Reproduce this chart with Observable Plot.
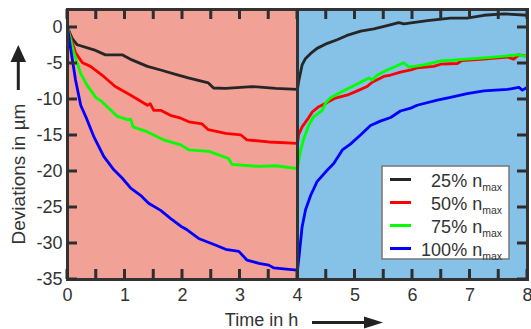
<!DOCTYPE html>
<html><head><meta charset="utf-8">
<script src="https://cdn.jsdelivr.net/npm/d3@7"></script>
<script src="https://cdn.jsdelivr.net/npm/@observablehq/plot@0.6"></script>
<style>body{margin:0;background:#fff} svg{display:block}</style>
</head><body><div id="chart"></div>
<script>
// ---- data ----
const seriesLabels = ["25%", "50%", "75%", "100%"];
const seriesColors = ["#262626", "#ff0000", "#00ff00", "#0000ff"];

const tBlack = [0, 0.08, 0.17, 0.46, 0.66, 0.95, 1.12, 1.39, 1.62, 1.88, 2.1, 2.45, 2.54, 2.75, 3.21, 3.62, 4.0, 4.02, 4.08, 4.14, 4.23, 4.34, 4.52, 4.69, 4.86, 5.1, 5.33, 5.56, 5.76, 5.85, 6.26, 6.66, 6.95, 7.24, 7.59, 8.0];
const vBlack = [0, -1.5, -2.4, -3.1, -3.8, -3.8, -4.5, -5.4, -5.9, -6.5, -7.0, -7.7, -8.4, -8.45, -8.2, -8.45, -8.6, -7.5, -5.2, -4.3, -3.6, -2.9, -2.2, -1.7, -1.1, -0.5, -0.2, 0.25, 0.67, 0.5, 0.95, 1.3, 1.3, 1.7, 1.9, 1.7];

const tRed = [0, 0.14, 0.26, 0.4, 0.6, 0.83, 1.1, 1.39, 1.44, 1.5, 1.62, 1.79, 1.97, 2.11, 2.34, 2.45, 2.75, 3.01, 3.12, 3.5, 4.0, 4.02, 4.08, 4.17, 4.26, 4.37, 4.52, 4.66, 4.86, 5.04, 5.21, 5.3, 5.5, 5.62, 5.79, 5.97, 6.08, 6.37, 6.49, 6.78, 6.86, 7.24, 7.65, 7.76, 7.85, 8.0];
const vRed = [0, -3.5, -4.9, -5.4, -6.6, -8.2, -9.4, -10.8, -10.6, -11.5, -11.5, -12.2, -12.6, -13.1, -13.4, -14.2, -14.7, -14.9, -15.6, -15.9, -16.1, -14.9, -13.8, -12.8, -11.7, -11.0, -10.4, -9.8, -9.4, -8.8, -8.2, -7.6, -6.8, -6.6, -6.2, -5.9, -5.6, -5.4, -5.1, -5.0, -4.6, -4.4, -4.1, -4.4, -3.8, -4.0];

const tGreen = [0, 0.11, 0.23, 0.34, 0.49, 0.6, 0.86, 1.04, 1.1, 1.14, 1.39, 1.67, 1.97, 2.11, 2.46, 2.8, 2.86, 3.33, 3.62, 4.0, 4.05, 4.11, 4.2, 4.28, 4.43, 4.49, 4.57, 4.75, 4.89, 5.1, 5.24, 5.3, 5.39, 5.56, 5.85, 5.94, 6.2, 6.49, 6.95, 7.36, 7.82, 8.0];
const vGreen = [0, -3.5, -6.4, -8.0, -9.7, -10.3, -12.3, -12.8, -12.75, -13.8, -14.5, -15.6, -16.3, -17.0, -17.2, -18.2, -19.0, -19.3, -19.2, -19.6, -17.2, -15.4, -13.5, -12.4, -11.5, -10.5, -9.8, -9.0, -8.45, -7.6, -7.0, -7.3, -6.6, -5.9, -4.9, -5.5, -5.2, -4.65, -4.4, -4.15, -3.8, -4.0];

const tBlue = [0, 0.05, 0.14, 0.23, 0.34, 0.46, 0.63, 0.81, 0.95, 1.1, 1.27, 1.41, 1.62, 1.79, 1.97, 2.08, 2.28, 2.57, 2.75, 2.98, 3.12, 3.33, 3.5, 3.59, 3.85, 4.0, 4.02, 4.08, 4.14, 4.23, 4.34, 4.52, 4.63, 4.78, 4.92, 5.1, 5.27, 5.44, 5.62, 5.79, 5.97, 6.08, 6.43, 6.66, 6.95, 7.24, 7.65, 7.85, 7.91, 8.0];
const vBlue = [0, -2.7, -7.3, -10.8, -12.8, -15.2, -17.9, -19.8, -20.9, -22.3, -23.3, -24.4, -25.4, -26.5, -27.6, -28.1, -29.3, -30.2, -30.8, -31.1, -32.3, -32.75, -33.0, -33.4, -33.6, -33.7, -32.3, -27.7, -25.3, -23.3, -21.4, -19.8, -18.9, -17.0, -16.2, -14.9, -13.6, -13.0, -12.5, -11.6, -11.2, -10.8, -10.1, -9.7, -9.2, -8.8, -8.6, -8.3, -8.7, -8.3];

const phaseStart = [0, 4];
const phaseEnd = [4, 8];
const phaseFill = ["#f2a196", "#86c1e8"];

const xTicks = [0, 0.5, 1, 1.5, 2, 2.5, 3, 3.5, 4, 4.5, 5, 5.5, 6, 6.5, 7, 7.5, 8];
const xLabels = [0, 1, 2, 3, 4, 5, 6, 7, 8];
const yTicks = [0, -5, -10, -15, -20, -25, -30, -35];

// ---- build ----
const tArr = [tBlack, tRed, tGreen, tBlue];
const vArr = [vBlack, vRed, vGreen, vBlue];
const series = tArr.map((ts, i) => ts.map((t, j) => ({t, v: vArr[i][j]})));
const phases = phaseStart.map((s, i) => ({s, e: phaseEnd[i], fill: phaseFill[i]}));

const FONT = "Liberation Sans, Arial, sans-serif";
const INK = "#333";
const W = 531, H = 329, ML = 67, MR = 4, MT = 9, MB = 50, TICK = 10;
const X_DOMAIN = [0, 8], Y_DOMAIN = [-35, 2.5];

const plot = Plot.plot({
  width: W,
  height: H,
  marginLeft: ML,
  marginRight: MR,
  marginTop: MT,
  marginBottom: MB,
  style: {fontFamily: FONT, background: "#fff", color: INK},
  x: {domain: X_DOMAIN},
  y: {domain: Y_DOMAIN},
  color: {type: "identity"},
  marks: [
    Plot.rect(phases, {x1: "s", x2: "e", fill: "fill"}),
    ...series.map((d, i) => Plot.line(d, {x: "t", y: "v", stroke: seriesColors[i], strokeWidth: 2.8, strokeLinejoin: "round"})),
    Plot.ruleX([4], {stroke: INK, strokeWidth: 3}),
    Plot.axisX({ticks: xLabels, anchor: "bottom", tickSize: 0, tickPadding: 9, tickFormat: d => String(d), fontSize: 18, fill: INK, label: null}),
    Plot.axisY({ticks: yTicks, anchor: "left", tickSize: 0, tickPadding: 5, tickFormat: d => String(d), fontSize: 18, fill: INK, label: null}),
    Plot.frame({stroke: INK, strokeWidth: 3})
  ]
});

const svg = d3.select(plot);

// inward tick marks, positioned with the plot's scales (with a same-geometry fallback)
const lx = d3.scaleLinear(X_DOMAIN, [ML, W - MR]);
const ly = d3.scaleLinear(Y_DOMAIN, [H - MB, MT]);
let sx = null, sy = null;
try { sx = plot.scale("x"); sy = plot.scale("y"); } catch (e) { sx = sy = null; }
const fx = v => { const p = sx && sx.apply ? sx.apply(v) : NaN; return Number.isFinite(p) ? p : lx(v); };
const fy = v => { const p = sy && sy.apply ? sy.apply(v) : NaN; return Number.isFinite(p) ? p : ly(v); };
const xL = fx(X_DOMAIN[0]), xR = fx(X_DOMAIN[1]);
const yB = fy(Y_DOMAIN[0]), yT = fy(Y_DOMAIN[1]);
let path = "";
xTicks.forEach(t => {
  const x = fx(t);
  path += `M${x},${yB}V${yB - TICK}M${x},${yT}V${yT + TICK}`;
});
yTicks.forEach(v => {
  const y = fy(v);
  path += `M${xL},${y}H${xL + TICK}M${xR},${y}H${xR - TICK}`;
});
svg.append("path").attr("d", path).attr("fill", "none")
  .attr("stroke", "#2e2e2e").attr("stroke-width", 3);

// y-axis title with arrow
svg.append("text")
  .attr("transform", "translate(25,174) rotate(-90)")
  .attr("text-anchor", "middle")
  .attr("font-family", FONT).attr("font-size", 19).attr("fill", INK)
  .text("Deviations in µm");
svg.append("line").attr("x1", 18.3).attr("x2", 18.3).attr("y1", 90).attr("y2", 60)
  .attr("stroke", "#222").attr("stroke-width", 3);
svg.append("polygon").attr("points", "10.5,62 26,62 18.3,45").attr("fill", "#222");

// x-axis title with arrow
svg.append("text")
  .attr("x", 261.5).attr("y", 326)
  .attr("text-anchor", "middle")
  .attr("font-family", FONT).attr("font-size", 18).attr("fill", INK)
  .text("Time in h");
svg.append("line").attr("x1", 312).attr("x2", 368).attr("y1", 322.5).attr("y2", 322.5)
  .attr("stroke", "#222").attr("stroke-width", 3);
svg.append("polygon").attr("points", "364,316.5 364,328.5 383,322.5").attr("fill", "#222");

// legend
const lg = svg.append("g").attr("transform", "translate(382,166)");
lg.append("rect").attr("width", 127).attr("height", 93)
  .attr("fill", "#fff").attr("stroke", "#777").attr("stroke-width", 1.5);
seriesLabels.forEach((lab, i) => {
  const cy = 13.5 + 23 * i;
  lg.append("line").attr("x1", 8).attr("x2", 29).attr("y1", cy).attr("y2", cy)
    .attr("stroke", seriesColors[i]).attr("stroke-width", 3);
  const t = lg.append("text").attr("x", 120).attr("y", cy + 7.5)
    .attr("text-anchor", "end")
    .attr("font-family", FONT).attr("font-size", 18).attr("fill", INK);
  t.append("tspan").text(lab + " n");
  t.append("tspan").attr("dy", 4).attr("font-size", 10.5).text("max");
});

document.getElementById("chart").appendChild(plot);
</script>
</body></html>
